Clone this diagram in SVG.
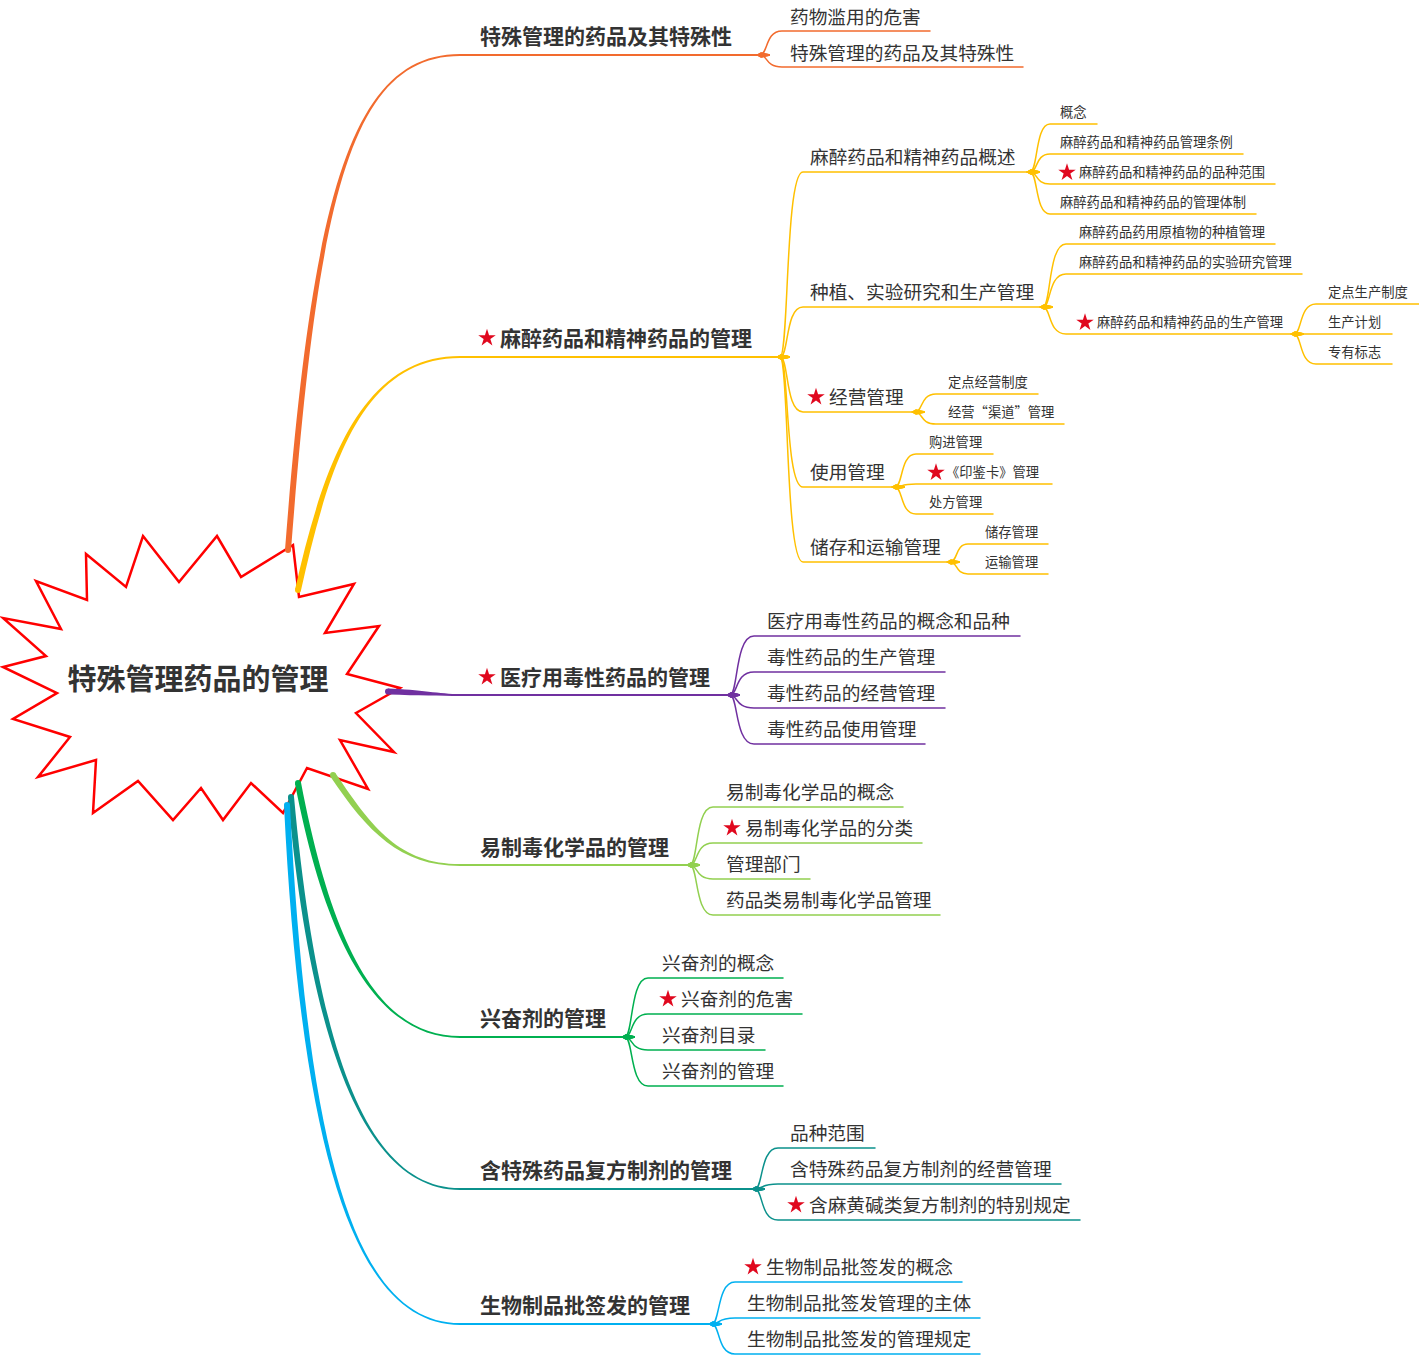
<svg xmlns="http://www.w3.org/2000/svg" xmlns:xlink="http://www.w3.org/1999/xlink" width="1419" height="1355" viewBox="0 0 1419 1355">
<style>
text{font-family:"Noto Sans CJK SC","Noto Sans",sans-serif;fill:#333333}
.t0{font-size:29px;font-weight:bold}
.t1{font-size:21px;font-weight:bold}
.t2{font-size:18.7px}
.t3{font-size:13.3px}
.c{fill:none;stroke-width:1.5;stroke-linecap:round}
.u{fill:none;stroke-width:1.8}
.or{stroke:#F26B2E}.ye{stroke:#FFC000}.pu{stroke:#7030A0}.lg{stroke:#92D050}.gr{stroke:#00B050}.te{stroke:#0B918C}.bl{stroke:#00B0F0}
.orc{marker-start:url(#m-or)}.yec{marker-start:url(#m-ye)}.puc{marker-start:url(#m-pu)}.lgc{marker-start:url(#m-lg)}.grc{marker-start:url(#m-gr)}.tec{marker-start:url(#m-te)}.blc{marker-start:url(#m-bl)}
</style>
<defs>
<path id="star" fill="#E0081E" d="M0,-9.2 L2.07,-2.85 L8.75,-2.84 L3.35,1.09 L5.4,7.44 L0,3.52 L-5.4,7.44 L-3.35,1.09 L-8.75,-2.84 L-2.07,-2.85 Z"/>
<marker id="m-or" markerUnits="userSpaceOnUse" markerWidth="16" markerHeight="8" refX="4" refY="4" orient="auto" overflow="visible"><path fill="#F26B2E" d="M0,4 L5,1.2 L14,3.2 L14,4.8 L5,6.8 Z"/></marker>
<marker id="m-ye" markerUnits="userSpaceOnUse" markerWidth="16" markerHeight="8" refX="4" refY="4" orient="auto" overflow="visible"><path fill="#FFC000" d="M0,4 L5,1.2 L14,3.2 L14,4.8 L5,6.8 Z"/></marker>
<marker id="m-pu" markerUnits="userSpaceOnUse" markerWidth="16" markerHeight="8" refX="4" refY="4" orient="auto" overflow="visible"><path fill="#7030A0" d="M0,4 L5,1.2 L14,3.2 L14,4.8 L5,6.8 Z"/></marker>
<marker id="m-lg" markerUnits="userSpaceOnUse" markerWidth="16" markerHeight="8" refX="4" refY="4" orient="auto" overflow="visible"><path fill="#92D050" d="M0,4 L5,1.2 L14,3.2 L14,4.8 L5,6.8 Z"/></marker>
<marker id="m-gr" markerUnits="userSpaceOnUse" markerWidth="16" markerHeight="8" refX="4" refY="4" orient="auto" overflow="visible"><path fill="#00B050" d="M0,4 L5,1.2 L14,3.2 L14,4.8 L5,6.8 Z"/></marker>
<marker id="m-te" markerUnits="userSpaceOnUse" markerWidth="16" markerHeight="8" refX="4" refY="4" orient="auto" overflow="visible"><path fill="#0B918C" d="M0,4 L5,1.2 L14,3.2 L14,4.8 L5,6.8 Z"/></marker>
<marker id="m-bl" markerUnits="userSpaceOnUse" markerWidth="16" markerHeight="8" refX="4" refY="4" orient="auto" overflow="visible"><path fill="#00B0F0" d="M0,4 L5,1.2 L14,3.2 L14,4.8 L5,6.8 Z"/></marker>
</defs>

<g id="center">
<polygon fill="#FFFFFF" stroke="#FF0000" stroke-width="2.5" stroke-linejoin="miter" points="143,536 179,582 217,536 241,577 293,545 299,597 354,584 325,633 379,626 347,674 400,688 356,713 394,752 340,740 368,789 307,768 283,813 251,783 223,820 201,788 173,820 138,781 93,813 96,760 38,777 70,737 13,719 57,693 3,667 46,656 3,618 61,629 36,581 87,600 86,554 126,587"/>
<text class="t0" x="198" y="690" text-anchor="middle">特殊管理药品的管理</text>
</g>

<g id="connectors">
<path fill="#F26B2E" d="M291,550 C318,200 350,55.9 460,55.9 L460,54.1 C350,54.1 312,200 285,550 Z"/><circle cx="288" cy="550" r="3" fill="#F26B2E"/>
<path fill="#FFC000" d="M300.9,590.7 C327.9,470.7 360,357.9 460,357.9 L460,356.1 C360,356.1 322.1,469.3 295.1,589.3 Z"/><circle cx="298" cy="590" r="3" fill="#FFC000"/>
<path fill="#7030A0" d="M388,688.5 C420,689.5 440,694.1 460,694.1 L460,695.9 C440,695.9 420,695.5 388,694.5 Z"/><circle cx="388" cy="691.5" r="3" fill="#7030A0"/>
<path fill="#92D050" d="M330.5,776.7 C367.5,831.7 400,865.9 460,865.9 L460,864.1 C400,864.1 372.5,828.3 335.5,773.3 Z"/><circle cx="333" cy="775" r="3" fill="#92D050"/>
<path fill="#00B050" d="M295,783.6 C327,950.6 380,1037.9 460,1037.9 L460,1036.1 C380,1036.1 333,949.4 301,782.4 Z"/><circle cx="298" cy="783" r="3" fill="#00B050"/>
<path fill="#0B918C" d="M288,797.3 C312,1060.3 370,1189.9 460,1189.9 L460,1188.1 C370,1188.1 318,1059.7 294,796.7 Z"/><circle cx="291" cy="797" r="3" fill="#0B918C"/>
<path fill="#00B0F0" d="M284,805.2 C302,1170.2 360,1324.9 460,1324.9 L460,1323.1 C360,1323.1 308,1169.9 290,804.9 Z"/><circle cx="287" cy="805" r="3" fill="#00B0F0"/>

<path class="u or" d="M459,55 H760"/>
<path class="u ye" d="M459,357 H780"/>
<path class="u pu" d="M459,695 H730"/>
<path class="u lg" d="M459,865 H690"/>
<path class="u gr" d="M459,1037 H625"/>
<path class="u te" d="M459,1189 H755"/>
<path class="u bl" d="M459,1324 H712"/>

<path class="c or orc" d="M760,55 C768,55 765,31 782,31 H930"/>
<path class="c or orc" d="M760,55 C768,55 765,67 782,67 H1023"/>

<path class="c ye yec" d="M780,357 C789,357 785,172 803,172 H1030"/>
<path class="c ye yec" d="M780,357 C789,357 785,307 803,307 H1043"/>
<path class="c ye yec" d="M780,357 C789,357 785,412 803,412 H915"/>
<path class="c ye yec" d="M780,357 C789,357 785,487 803,487 H895"/>
<path class="c ye yec" d="M780,357 C789,357 785,562 803,562 H950"/>
<path class="c ye yec" d="M1030,172 C1038,172 1035,124 1050,124 H1097"/>
<path class="c ye yec" d="M1030,172 C1038,172 1035,154 1050,154 H1243"/>
<path class="c ye yec" d="M1030,172 C1038,172 1035,184 1050,184 H1275"/>
<path class="c ye yec" d="M1030,172 C1038,172 1035,214 1050,214 H1256"/>
<path class="c ye yec" d="M1043,307 C1051,307 1048,244 1066,244 H1275"/>
<path class="c ye yec" d="M1043,307 C1051,307 1048,274 1066,274 H1302"/>
<path class="c ye yec" d="M1043,307 C1051,307 1048,334 1066,334 H1294"/>
<path class="c ye yec" d="M1294,334 C1302,334 1299,304 1316,304 H1419"/>
<path class="c ye yec" d="M1294,334 C1302,334 1299,334 1316,334 H1392"/>
<path class="c ye yec" d="M1294,334 C1302,334 1299,364 1316,364 H1392"/>
<path class="c ye yec" d="M915,412 C923,412 920,394 936,394 H1038"/>
<path class="c ye yec" d="M915,412 C923,412 920,424 936,424 H1064"/>
<path class="c ye yec" d="M895,487 C903,487 900,454 916,454 H993"/>
<path class="c ye yec" d="M895,487 C903,487 900,484 916,484 H1052"/>
<path class="c ye yec" d="M895,487 C903,487 900,514 916,514 H993"/>
<path class="c ye yec" d="M950,562 C958,562 955,544 968,544 H1048"/>
<path class="c ye yec" d="M950,562 C958,562 955,574 968,574 H1048"/>

<path class="c pu puc" d="M730,695 C738,695 735,636 754,636 H1020"/>
<path class="c pu puc" d="M730,695 C738,695 735,672 754,672 H945"/>
<path class="c pu puc" d="M730,695 C738,695 735,708 754,708 H945"/>
<path class="c pu puc" d="M730,695 C738,695 735,744 754,744 H925"/>

<path class="c lg lgc" d="M690,865 C698,865 695,807 713,807 H903"/>
<path class="c lg lgc" d="M690,865 C698,865 695,843 713,843 H922"/>
<path class="c lg lgc" d="M690,865 C698,865 695,879 713,879 H810"/>
<path class="c lg lgc" d="M690,865 C698,865 695,915 713,915 H940"/>

<path class="c gr grc" d="M625,1037 C633,1037 630,978 648,978 H783"/>
<path class="c gr grc" d="M625,1037 C633,1037 630,1014 648,1014 H802"/>
<path class="c gr grc" d="M625,1037 C633,1037 630,1050 648,1050 H765"/>
<path class="c gr grc" d="M625,1037 C633,1037 630,1086 648,1086 H783"/>

<path class="c te tec" d="M755,1189 C763,1189 760,1148 778,1148 H875"/>
<path class="c te tec" d="M755,1189 C763,1189 760,1184 778,1184 H1061"/>
<path class="c te tec" d="M755,1189 C763,1189 760,1220 778,1220 H1080"/>

<path class="c bl blc" d="M712,1324 C720,1324 717,1282 735,1282 H962"/>
<path class="c bl blc" d="M712,1324 C720,1324 717,1318 735,1318 H980"/>
<path class="c bl blc" d="M712,1324 C720,1324 717,1354 735,1354 H980"/>
</g>

<g id="n1"><text class="t1" x="480" y="44">特殊管理的药品及其特殊性</text></g>
<g id="n2"><use xlink:href="#star" href="#star" transform="translate(487,338)"/><text class="t1" x="500" y="346">麻醉药品和精神药品的管理</text></g>
<g id="n3"><use xlink:href="#star" href="#star" transform="translate(487,677)"/><text class="t1" x="500" y="685">医疗用毒性药品的管理</text></g>
<g id="n4"><text class="t1" x="480" y="855">易制毒化学品的管理</text></g>
<g id="n5"><text class="t1" x="480" y="1026">兴奋剂的管理</text></g>
<g id="n6"><text class="t1" x="480" y="1178">含特殊药品复方制剂的管理</text></g>
<g id="n7"><text class="t1" x="480" y="1313">生物制品批签发的管理</text></g>

<g id="n1-1"><text class="t2" x="790" y="24">药物滥用的危害</text></g>
<g id="n1-2"><text class="t2" x="790" y="60">特殊管理的药品及其特殊性</text></g>

<g id="n2-1"><text class="t2" x="810" y="164">麻醉药品和精神药品概述</text></g>
<g id="n2-1-1"><text class="t3" x="1060" y="117">概念</text></g>
<g id="n2-1-2"><text class="t3" x="1060" y="147">麻醉药品和精神药品管理条例</text></g>
<g id="n2-1-3"><use xlink:href="#star" href="#star" transform="translate(1067,172.5)"/><text class="t3" x="1079" y="177">麻醉药品和精神药品的品种范围</text></g>
<g id="n2-1-4"><text class="t3" x="1060" y="207">麻醉药品和精神药品的管理体制</text></g>

<g id="n2-2"><text class="t2" x="810" y="299">种植、实验研究和生产管理</text></g>
<g id="n2-2-1"><text class="t3" x="1079" y="237">麻醉药品药用原植物的种植管理</text></g>
<g id="n2-2-2"><text class="t3" x="1079" y="267">麻醉药品和精神药品的实验研究管理</text></g>
<g id="n2-2-3"><use xlink:href="#star" href="#star" transform="translate(1085,322.5)"/><text class="t3" x="1097" y="327">麻醉药品和精神药品的生产管理</text></g>
<g id="n2-2-3-1"><text class="t3" x="1328" y="297">定点生产制度</text></g>
<g id="n2-2-3-2"><text class="t3" x="1328" y="327">生产计划</text></g>
<g id="n2-2-3-3"><text class="t3" x="1328" y="357">专有标志</text></g>

<g id="n2-3"><use xlink:href="#star" href="#star" transform="translate(816,397)"/><text class="t2" x="829" y="404">经营管理</text></g>
<g id="n2-3-1"><text class="t3" x="948" y="387">定点经营制度</text></g>
<g id="n2-3-2"><text class="t3" x="948" y="417">经营“渠道”管理</text></g>

<g id="n2-4"><text class="t2" x="810" y="479">使用管理</text></g>
<g id="n2-4-1"><text class="t3" x="929" y="447">购进管理</text></g>
<g id="n2-4-2"><use xlink:href="#star" href="#star" transform="translate(936,472.5)"/><text class="t3" x="946" y="477">《印鉴卡》管理</text></g>
<g id="n2-4-3"><text class="t3" x="929" y="507">处方管理</text></g>

<g id="n2-5"><text class="t2" x="810" y="554">储存和运输管理</text></g>
<g id="n2-5-1"><text class="t3" x="985" y="537">储存管理</text></g>
<g id="n2-5-2"><text class="t3" x="985" y="567">运输管理</text></g>

<g id="n3-1"><text class="t2" x="767" y="628">医疗用毒性药品的概念和品种</text></g>
<g id="n3-2"><text class="t2" x="767" y="664">毒性药品的生产管理</text></g>
<g id="n3-3"><text class="t2" x="767" y="700">毒性药品的经营管理</text></g>
<g id="n3-4"><text class="t2" x="767" y="736">毒性药品使用管理</text></g>

<g id="n4-1"><text class="t2" x="726" y="799">易制毒化学品的概念</text></g>
<g id="n4-2"><use xlink:href="#star" href="#star" transform="translate(732,828)"/><text class="t2" x="745" y="835">易制毒化学品的分类</text></g>
<g id="n4-3"><text class="t2" x="726" y="871">管理部门</text></g>
<g id="n4-4"><text class="t2" x="726" y="907">药品类易制毒化学品管理</text></g>

<g id="n5-1"><text class="t2" x="662" y="970">兴奋剂的概念</text></g>
<g id="n5-2"><use xlink:href="#star" href="#star" transform="translate(668,999)"/><text class="t2" x="681" y="1006">兴奋剂的危害</text></g>
<g id="n5-3"><text class="t2" x="662" y="1042">兴奋剂目录</text></g>
<g id="n5-4"><text class="t2" x="662" y="1078">兴奋剂的管理</text></g>

<g id="n6-1"><text class="t2" x="790" y="1140">品种范围</text></g>
<g id="n6-2"><text class="t2" x="790" y="1176">含特殊药品复方制剂的经营管理</text></g>
<g id="n6-3"><use xlink:href="#star" href="#star" transform="translate(796,1205)"/><text class="t2" x="809" y="1212">含麻黄碱类复方制剂的特别规定</text></g>

<g id="n7-1"><use xlink:href="#star" href="#star" transform="translate(753,1267)"/><text class="t2" x="766" y="1274">生物制品批签发的概念</text></g>
<g id="n7-2"><text class="t2" x="747" y="1310">生物制品批签发管理的主体</text></g>
<g id="n7-3"><text class="t2" x="747" y="1346">生物制品批签发的管理规定</text></g>
</svg>
